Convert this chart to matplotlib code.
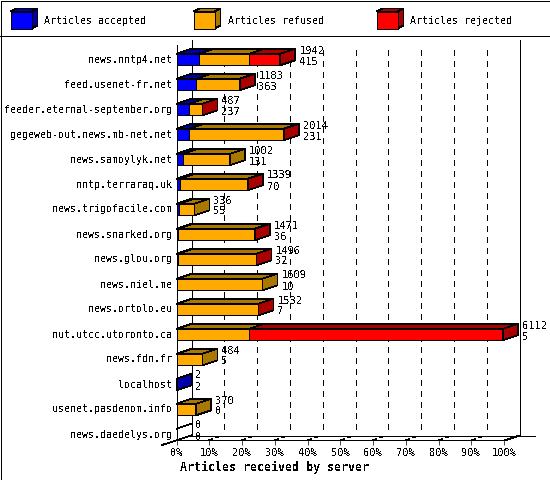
"""
Articles received by server - 3D stacked bars, gnuplot-ish pixel look
Output: out.png
"""

import numpy as np
import matplotlib
matplotlib.use("Agg")
import matplotlib.pyplot as plt
from matplotlib.patches import Polygon, Rectangle

SERVERS = ["news.nntp4.net", "feed.usenet-fr.net", "feeder.eternal-september.org",
           "gegeweb-out.news.mb-net.net", "news.samoylyk.net", "nntp.terraraq.uk",
           "news.trigofacile.com", "news.snarked.org", "news.glou.org", "news.niel.me",
           "news.ortolo.eu", "nut.utcc.utoronto.ca", "news.fdn.fr", "localhost",
           "usenet.pasdenom.info", "news.daedelys.org"]
TOTAL    = [1942, 1183, 487, 2014, 1002, 1339, 336, 1471, 1496, 1609, 1532, 6112, 484, 2, 370, 0]
ACCEPTED = [415, 363, 237, 231, 131, 70, 55, 36, 32, 10, 7, 5, 5, 2, 0, 0]
REJECTED = [587, 6, 12, 6, 0, 6, 0, 6, 6, 0, 6, 4750, 0, 0, 0, 0]
PCT_LABELS = ["0%", "10%", "20%", "30%", "40%", "50%", "60%", "70%", "80%", "90%", "100%"]
LEGEND = ["Articles accepted", "Articles refused", "Articles rejected"]

FRONT = ["#0000ff", "#ffaa00", "#ff0000"]
DARK  = ["#0000aa", "#aa7700", "#aa0000"]
XMAX  = 6130
LW    = 0.5
FS    = 7.2
FS_NUM = 7.5

plt.rcParams["font.family"] = "DejaVu Sans Mono"
plt.rcParams["text.antialiased"] = False
plt.rcParams["lines.antialiased"] = False
plt.rcParams["patch.antialiased"] = False

fig = plt.figure(figsize=(5.5, 4.8), dpi=100, facecolor="white")

# pixel-space layer for border, legend and back wall
bg = fig.add_axes([0, 0, 1, 1])
bg.set_xlim(0, 550)
bg.set_ylim(480, 0)
bg.axis("off")

bg.add_patch(Rectangle((0.5, 0.5), 549, 479, fill=False, ec="black", lw=LW))
bg.plot([0, 550], [35.5, 35.5], color="black", lw=LW)

for i, name in enumerate(LEGEND):
    x = 10.5 + 183 * i
    bg.add_patch(Polygon([(x, 11.5), (x + 6, 8.5), (x + 27, 8.5), (x + 21, 11.5)],
                         fc=DARK[i], ec="black", lw=LW))
    bg.add_patch(Polygon([(x + 21, 11.5), (x + 27, 8.5), (x + 27, 25.5), (x + 21, 28.5)],
                         fc=DARK[i], ec="black", lw=LW))
    bg.add_patch(Rectangle((x, 11.5), 21, 17, fc=FRONT[i], ec="black", lw=LW))
    bg.text(x + 34, 21, name, fontsize=FS, va="center", ha="left")

# back wall and floor
GRID_X = [223.5, 256.5, 289.5, 322.5, 355.5, 387.5, 420.5, 453.5, 486.5]
for x in GRID_X:
    bg.plot([x, x], [50, 435], color="black", lw=LW, dashes=(7.2, 7.2))
bg.plot([191.5, 191.5], [40, 435], color="black", lw=LW)
bg.plot([519.5, 519.5], [40, 435], color="black", lw=LW)
bg.plot([191.5, 535], [435.5, 435.5], color="black", lw=LW)
bg.plot([162, 191.5], [445, 435.5], color="black", lw=LW)
bg.plot([504.5, 519.5], [440.5, 435.5], color="black", lw=LW)
for x in GRID_X:
    bg.plot([x - 15, x - 11], [440.5, 439], color="black", lw=LW)
    bg.plot([x - 8, x - 4], [437.5, 436.5], color="black", lw=LW)

# front plane: x in articles, y in rows
ax = fig.add_axes([176.5 / 550, 40 / 480, 327.5 / 550, 395 / 480])
ax.patch.set_alpha(0)
ax.set_xlim(0, XMAX)
ax.set_ylim(15.22, -0.58)
for side in ["top", "right"]:
    ax.spines[side].set_visible(False)
for side in ["left", "bottom"]:
    ax.spines[side].set_linewidth(LW)

DX = 15 / 327.5 * XMAX
DY = 5 / 25
HALF = 5.75 / 25
LABEL_GAP = 4 / 327.5 * XMAX

for row, server in enumerate(SERVERS):
    acc, tot, rej = ACCEPTED[row], TOTAL[row], REJECTED[row]
    vals = [acc, tot - acc - rej, rej]
    top, bot = row - HALF, row + HALF
    left = 0
    side_color = "white"
    for val, front, dark in zip(vals, FRONT, DARK):
        if val <= 0:
            continue
        ax.add_patch(Polygon([(left, top), (left + DX, top - DY), (left + val + DX, top - DY),
                              (left + val, top)], fc=dark, ec="black", lw=LW, clip_on=False))
        ax.add_patch(Rectangle((left, top), val, bot - top, fc=front, ec="black", lw=LW,
                               clip_on=False))
        left += val
        side_color = dark
    if tot > 0:
        ax.add_patch(Polygon([(tot, top), (tot + DX, top - DY), (tot + DX, bot - DY), (tot, bot)],
                             fc=side_color, ec="black", lw=LW, clip_on=False))
    else:
        ax.plot([0, DX], [top, top - DY], color="black", lw=LW, clip_on=False)
        ax.plot([0, DX], [bot, bot - DY], color="black", lw=LW, clip_on=False)
    ax.text(tot + DX + LABEL_GAP, row - 0.36, str(tot), fontsize=FS_NUM, va="center", ha="left")
    ax.text(tot + DX + LABEL_GAP, row + 0.08, str(acc), fontsize=FS_NUM, va="center", ha="left")

ax.set_yticks(np.arange(len(SERVERS)), SERVERS, fontsize=FS, va="center")
ax.tick_params(axis="y", length=0, pad=3)
ax.set_xticks(np.linspace(0, XMAX, 11), PCT_LABELS, fontsize=FS_NUM)
ax.tick_params(axis="x", length=3.5, width=LW, pad=2.5, direction="out")
ax.set_xlabel("Articles received by server", fontsize=8.4, fontweight="bold",
              x=0.298, labelpad=2)

plt.savefig("out.png", dpi=100, facecolor="white")
plt.close()
